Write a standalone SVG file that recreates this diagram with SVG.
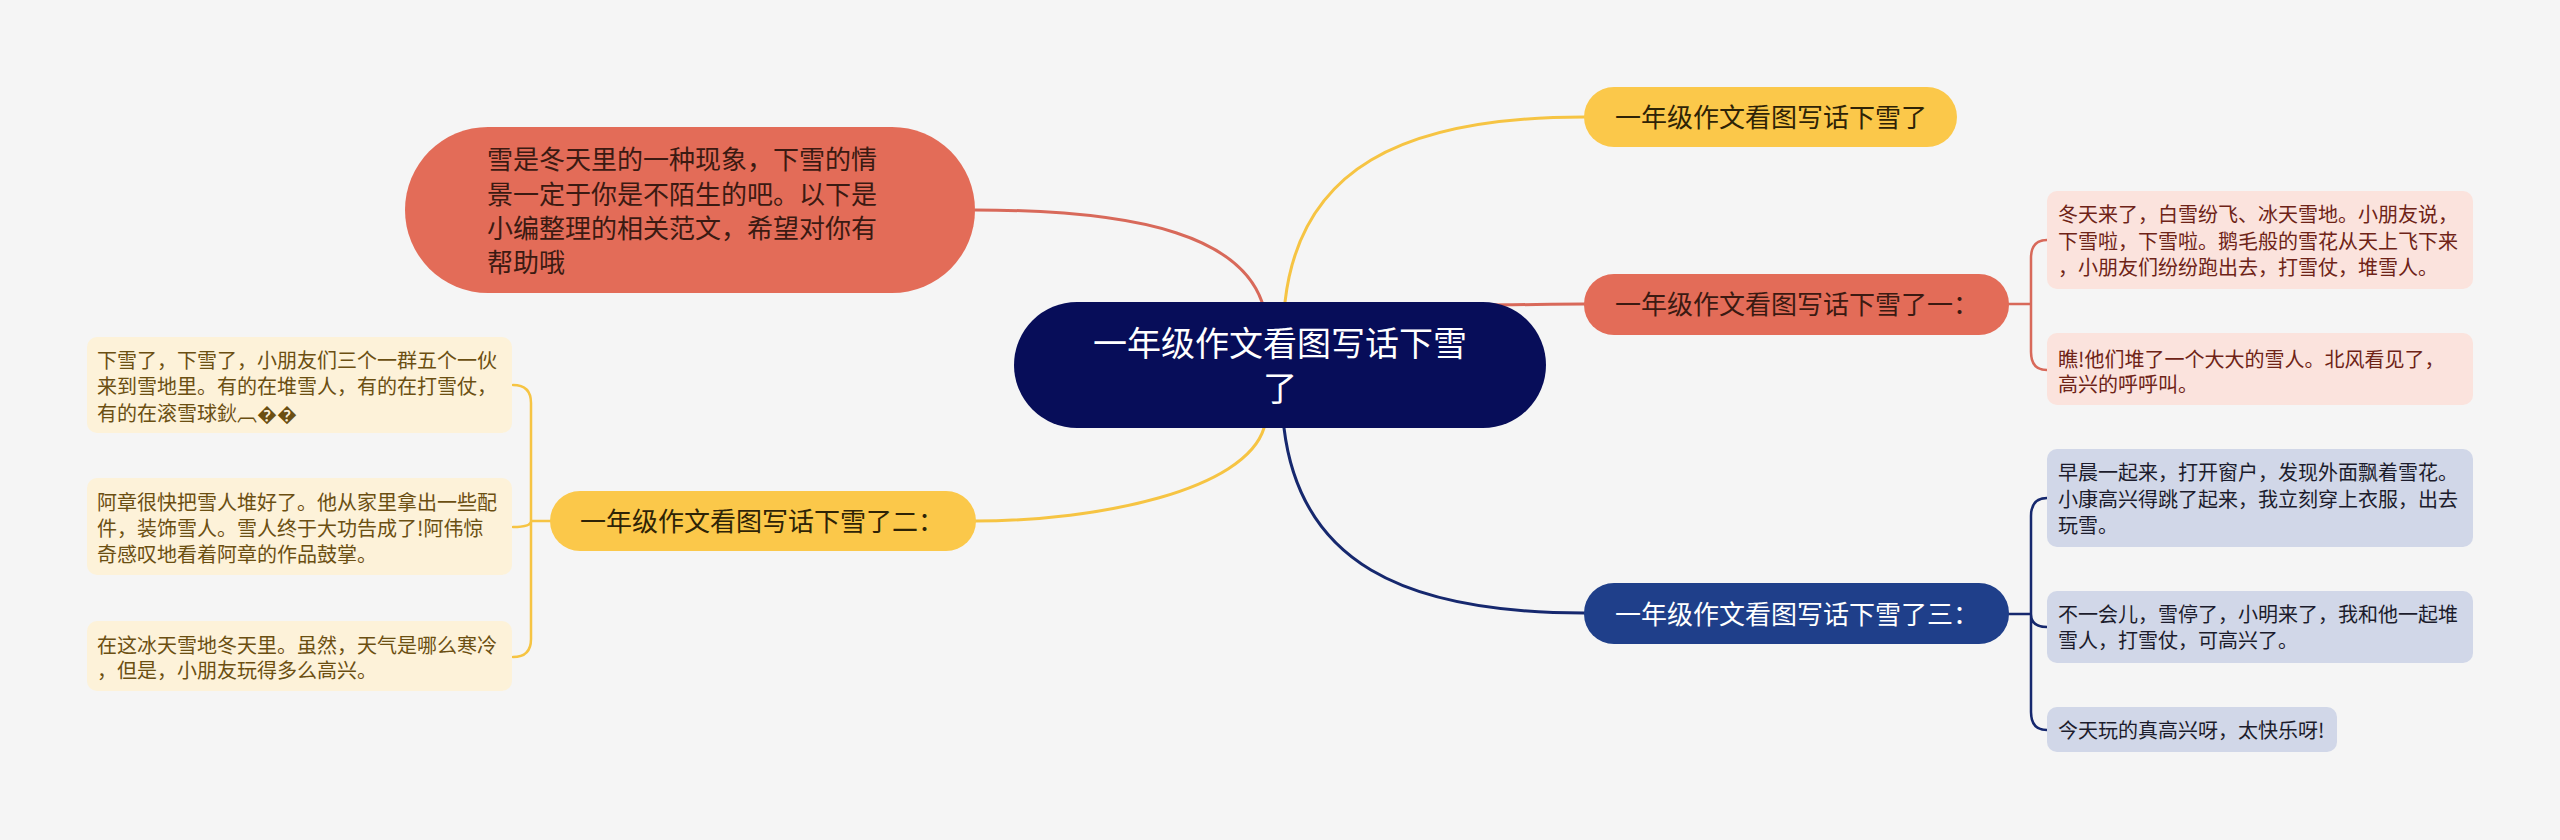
<svg xmlns="http://www.w3.org/2000/svg" width="2560" height="840" viewBox="0 0 2560 840">
<style>
text{font-family:"Noto Sans CJK SC","Noto Sans",sans-serif;}
.c{fill:none;stroke-width:3;stroke-linecap:round}
.b{fill:none;stroke-width:2.5;stroke-linecap:round}
.red{stroke:#d8695a}
.yel{stroke:#f6c443}
.blu{stroke:#16286e}
.t26{font-size:26px}
.t20{font-size:20px}
.lr{fill:#fbe3dd}
.lb{fill:#d1d7e8}
.ly{fill:#fdf2d9}
.tr{fill:#6e2317}
.tb{fill:#1c1c2c}
.ty{fill:#6b4f12}
</style>
<rect width="2560" height="840" fill="#f5f5f5"/>
<g id="connectors">
<path class="c red" d="M975 210 C1150 210 1240 240 1262 302"/>
<path class="c yel" d="M1285 302 C1300 170 1400 117 1584 117"/>
<path class="c red" d="M1480 305 C1520 305 1550 304 1584 304"/>
<path class="c yel" d="M1264 428 C1245 490 1100 521 975 521"/>
<path class="c blu" d="M1284 428 C1300 560 1400 613 1584 613"/>
<path class="b red" d="M2009 304 H2031 M2031 304 V258 Q2031 240 2047 240 M2031 304 V352 Q2031 370 2047 370"/>
<path class="b blu" d="M2009 614 H2031 M2031 614 V516 Q2031 498 2047 498 M2031 614 Q2031 627 2047 627 M2031 614 V712 Q2031 730 2047 730"/>
<path class="b yel" d="M550 521 H531 M531 521 V403 Q531 385 513 385 M531 521 Q531 527 513 527 M531 521 V639 Q531 657 513 657"/>
</g>
<g id="root">
<rect x="1014" y="302" width="532" height="126" rx="63" fill="#070d59"/>
<text x="1280" y="356" font-size="34" fill="#ffffff" text-anchor="middle">一年级作文看图写话下雪</text>
<text x="1280" y="401" font-size="34" fill="#ffffff" text-anchor="middle">了</text>
</g>
<g id="intro">
<rect x="405" y="127" width="570" height="166" rx="83" fill="#e36c58"/>
<text class="t26" fill="#3b1a12"><tspan x="487" y="169">雪是冬天里的一种现象，下雪的情</tspan><tspan x="487" y="204">景一定于你是不陌生的吧。以下是</tspan><tspan x="487" y="238">小编整理的相关范文，希望对你有</tspan><tspan x="487" y="272">帮助哦</tspan></text>
</g>
<g id="topic0">
<rect x="1584" y="87" width="373" height="60" rx="30" fill="#fbc84a"/>
<text class="t26" x="1615" y="127" fill="#2e2306">一年级作文看图写话下雪了</text>
</g>
<g id="topic1">
<rect x="1584" y="274" width="425" height="61" rx="30" fill="#e36c58"/>
<text class="t26" x="1615" y="314" fill="#3b1a12">一年级作文看图写话下雪了一：</text>
</g>
<g id="topic2">
<rect x="550" y="491" width="426" height="60" rx="30" fill="#fbc84a"/>
<text class="t26" x="580" y="531" fill="#2e2306">一年级作文看图写话下雪了二：</text>
</g>
<g id="topic3">
<rect x="1584" y="583" width="425" height="61" rx="30" fill="#1f3f8a"/>
<text class="t26" x="1615" y="624" fill="#ffffff">一年级作文看图写话下雪了三：</text>
</g>
<g id="leaf1a">
<rect class="lr" x="2047" y="191" width="426" height="98" rx="10"/>
<text class="t20 tr"><tspan x="2058" y="222">冬天来了，白雪纷飞、冰天雪地。小朋友说，</tspan><tspan x="2058" y="249">下雪啦，下雪啦。鹅毛般的雪花从天上飞下来</tspan><tspan x="2058" y="275">，小朋友们纷纷跑出去，打雪仗，堆雪人。</tspan></text>
</g>
<g id="leaf1b">
<rect class="lr" x="2047" y="333" width="426" height="72" rx="10"/>
<text class="t20 tr"><tspan x="2058" y="367">瞧!他们堆了一个大大的雪人。北风看见了，</tspan><tspan x="2058" y="392">高兴的呼呼叫。</tspan></text>
</g>
<g id="leaf3a">
<rect class="lb" x="2047" y="449" width="426" height="98" rx="10"/>
<text class="t20 tb"><tspan x="2058" y="480">早晨一起来，打开窗户，发现外面飘着雪花。</tspan><tspan x="2058" y="507">小康高兴得跳了起来，我立刻穿上衣服，出去</tspan><tspan x="2058" y="533">玩雪。</tspan></text>
</g>
<g id="leaf3b">
<rect class="lb" x="2047" y="591" width="426" height="72" rx="10"/>
<text class="t20 tb"><tspan x="2058" y="622">不一会儿，雪停了，小明来了，我和他一起堆</tspan><tspan x="2058" y="648">雪人，打雪仗，可高兴了。</tspan></text>
</g>
<g id="leaf3c">
<rect class="lb" x="2047" y="707" width="290" height="45" rx="10"/>
<text class="t20 tb" x="2058" y="738">今天玩的真高兴呀，太快乐呀!</text>
</g>
<g id="leaf2a">
<rect class="ly" x="87" y="337" width="425" height="96" rx="10"/>
<text class="t20 ty"><tspan x="97" y="368">下雪了，下雪了，小朋友们三个一群五个一伙</tspan><tspan x="97" y="394">来到雪地里。有的在堆雪人，有的在打雪仗，</tspan><tspan x="97" y="421">有的在滚雪球鈥︹��</tspan></text>
</g>
<g id="leaf2b">
<rect class="ly" x="87" y="478" width="425" height="97" rx="10"/>
<text class="t20 ty"><tspan x="97" y="510">阿章很快把雪人堆好了。他从家里拿出一些配</tspan><tspan x="97" y="536">件，装饰雪人。雪人终于大功告成了!阿伟惊</tspan><tspan x="97" y="562">奇感叹地看着阿章的作品鼓掌。</tspan></text>
</g>
<g id="leaf2c">
<rect class="ly" x="87" y="621" width="425" height="70" rx="10"/>
<text class="t20 ty"><tspan x="97" y="653">在这冰天雪地冬天里。虽然，天气是哪么寒冷</tspan><tspan x="97" y="678">，但是，小朋友玩得多么高兴。</tspan></text>
</g>
</svg>
